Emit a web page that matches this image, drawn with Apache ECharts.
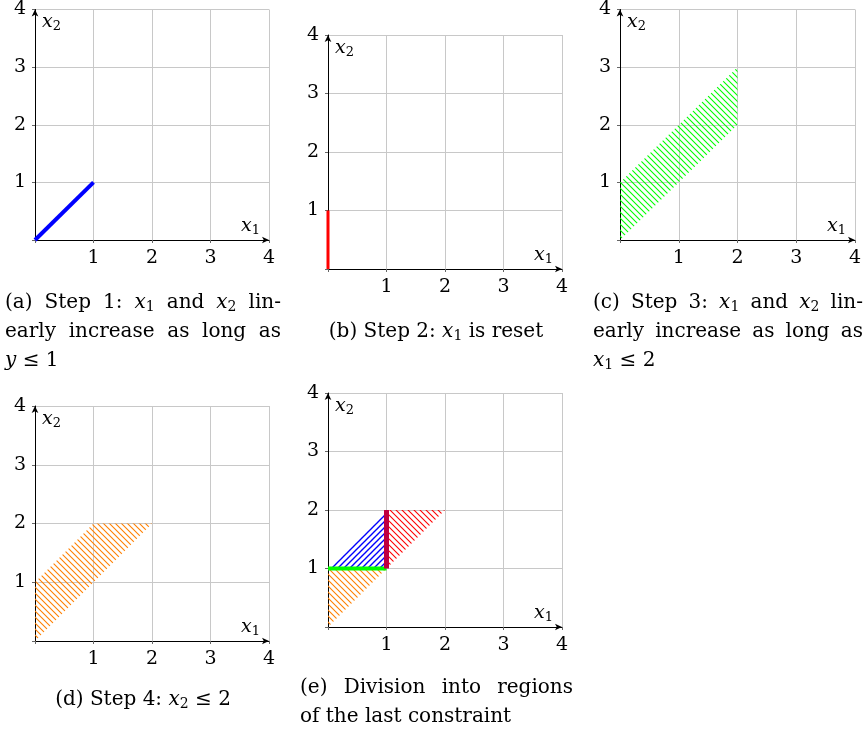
<!DOCTYPE html>
<html>
<head>
<meta charset="utf-8">
<script src="https://cdn.jsdelivr.net/npm/echarts@6/dist/echarts.min.js"></script>
<style>
html,body{margin:0;padding:0;background:#fff;}
#chart{width:867px;height:732px;}
</style>
</head>
<body>
<div id="chart"></div>
<script>
// ---- data ----
const axisTicks = [0, 1, 2, 3, 4];
const stepA_line = [[0, 0], [1, 1]];
const stepB_line = [[0, 0], [0, 1]];
const stepC_region = [[0, 0], [0, 1], [2, 3], [2, 2]];
const stepD_region = [[0, 0], [0, 1], [1, 2], [2, 2]];
const stepE_lower = [[0, 0], [0, 1], [1, 1]];
const stepE_upperLeft = [[0, 1], [1, 2], [1, 1]];
const stepE_upperRight = [[1, 1], [1, 2], [2, 2]];
const stepE_hLine = [[0, 1], [1, 1]];
const stepE_vLine = [[1, 1], [1, 2]];
const captionA = ['(a) Step 1: {i|x}{s|1} and {i|x}{s|2} lin-', 'early increase as long as', '{i|y} ≤ 1'];
const captionB = ['(b) Step 2: {i|x}{s|1} is reset'];
const captionC = ['(c) Step 3: {i|x}{s|1} and {i|x}{s|2} lin-', 'early increase as long as', '{i|x}{s|1} ≤ 2'];
const captionD = ['(d) Step 4: {i|x}{s|2} ≤ 2'];
const captionE = ['(e) Division into regions', 'of the last constraint'];

// ---- styling ----
const SERIF = '"DejaVu Serif", "Liberation Serif", serif';
const FS = 20;      // caption size
const TFS = 19;     // tick / axis name size
function richFor(size) {
  return {
    i: {fontFamily: SERIF, fontStyle: 'italic', fontSize: size, lineHeight: 22, verticalAlign: 'middle', color: '#000'},
    s: {fontFamily: SERIF, fontSize: Math.round(size * 0.68), lineHeight: 8, verticalAlign: 'bottom', color: '#000'}
  };
}
const rich = richFor(FS);
const richAxis = richFor(TFS);

function hatch(color, dir, lw) {
  const s = 6;
  const c = document.createElement('canvas');
  c.width = s; c.height = s;
  const ctx = c.getContext('2d');
  ctx.strokeStyle = color;
  ctx.lineWidth = lw;
  ctx.beginPath();
  for (let k = -1; k <= 2; k++) {
    if (dir === 'nw') { ctx.moveTo(k * s - 1, -1); ctx.lineTo(k * s + s + 1, s + 1); }
    else { ctx.moveTo(k * s + 1, -1); ctx.lineTo(k * s - s - 1, s + 1); }
  }
  ctx.stroke();
  return {image: c, repeat: 'repeat'};
}

const grids = [
  {left: 35, top: 6, width: 234, height: 234},
  {left: 328, top: 35, width: 234, height: 234},
  {left: 620, top: 6, width: 235, height: 234},
  {left: 35, top: 406, width: 234, height: 235},
  {left: 328, top: 393, width: 234, height: 234}
];

function axisCommon() {
  return {
    type: 'value', min: axisTicks[0], max: axisTicks[axisTicks.length - 1], interval: 1,
    axisLine: {show: true, onZero: false, lineStyle: {color: '#000', width: 1}, symbol: ['none', 'arrow'], symbolSize: [5, 7]},
    axisTick: {show: true, length: 3, lineStyle: {color: '#666'}},
    axisLabel: {formatter: v => (v === 0 ? '' : String(v)), color: '#000', fontFamily: SERIF, fontSize: TFS, margin: 9},
    splitLine: {show: true, lineStyle: {color: '#c8c8c8', width: 1}}
  };
}

const xAxes = grids.map((g, i) => Object.assign(axisCommon(), {
  gridIndex: i,
  name: '{i|x}{s|1}', nameLocation: 'end', nameGap: -28,
  nameTextStyle: {align: 'left', verticalAlign: 'bottom', padding: [0, 0, 3, 0], rich: richAxis}
}));
const yAxes = grids.map((g, i) => Object.assign(axisCommon(), {
  gridIndex: i,
  name: '{i|x}{s|2}', nameLocation: 'end', nameGap: -13,
  nameTextStyle: {align: 'left', verticalAlign: 'middle', padding: [0, 0, 0, 7], rich: richAxis}
}));

function region(points, fill, gi) {
  return {
    type: 'custom', xAxisIndex: gi, yAxisIndex: gi, data: points, encode: {x: 0, y: 1},
    silent: true, animation: false, z: 1,
    renderItem: function (params, api) {
      if (params.dataIndex !== 0) return null;
      return {type: 'polygon', shape: {points: points.map(p => api.coord(p))}, style: {fill: fill, stroke: null}};
    }
  };
}
function seg(points, color, width, gi) {
  return {
    type: 'line', xAxisIndex: gi, yAxisIndex: gi, data: points, showSymbol: false, symbol: 'none',
    silent: true, animation: false, z: 3,
    lineStyle: {color: color, width: width, cap: 'butt'}
  };
}

const series = [
  seg(stepA_line, '#0000ff', 4, 0),
  seg(stepB_line, '#ff0000', 3, 1),
  region(stepC_region, hatch('#00ff00', 'nw', 1.1), 2),
  region(stepD_region, hatch('#ff8000', 'nw', 1.1), 3),
  region(stepE_lower, hatch('#ff8000', 'nw', 1.1), 4),
  region(stepE_upperLeft, hatch('#0000ff', 'ne', 1.4), 4),
  region(stepE_upperRight, hatch('#ff0000', 'nw', 1.1), 4),
  seg(stepE_hLine, '#00ff00', 4, 4),
  seg(stepE_vLine, '#bf0040', 5, 4)
];

function measure(t) {
  const el = new echarts.graphic.Text({style: {text: t, fontFamily: SERIF, fontSize: FS, rich: rich}});
  return el.getBoundingRect().width;
}
function textEl(t, x, y, align) {
  return {
    type: 'text', x: x, y: y, silent: true,
    style: {text: t, fontFamily: SERIF, fontSize: FS, fill: '#000', align: align, verticalAlign: 'middle', rich: rich}
  };
}
// justified paragraph lines between x and right (last line ragged); otherwise plain
function caption(lines, x, y, align, right) {
  const out = [];
  lines.forEach((t, k) => {
    const yy = y + k * 29;
    if (right != null && k < lines.length - 1) {
      const words = t.split(' ');
      const ws = words.map(measure);
      const total = ws.reduce((a, b) => a + b, 0);
      const gap = (right - x - total) / (words.length - 1);
      let cx = x;
      words.forEach((w, j) => { out.push(textEl(w, cx, yy, 'left')); cx += ws[j] + gap; });
    } else {
      out.push(textEl(t, x, yy, align));
    }
  });
  return out;
}

const graphic = [].concat(
  caption(captionA, 5, 303, 'left', 281),
  caption(captionB, 436, 332, 'center', null),
  caption(captionC, 593, 303, 'left', 863),
  caption(captionD, 143, 700, 'center', null),
  caption(captionE, 300, 688, 'left', 573)
);

const chart = echarts.init(document.getElementById('chart'), null, {renderer: 'canvas'});
chart.setOption({
  animation: false,
  backgroundColor: '#fff',
  grid: grids,
  xAxis: xAxes,
  yAxis: yAxes,
  series: series,
  graphic: graphic
});
</script>
</body>
</html>
